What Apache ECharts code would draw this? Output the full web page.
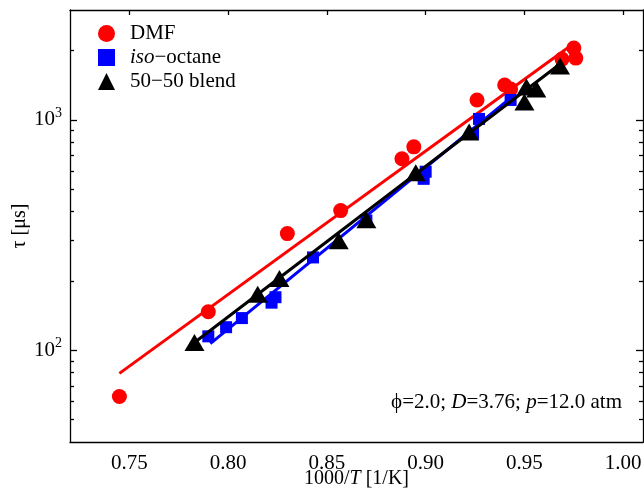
<!DOCTYPE html>
<html>
<head>
<meta charset="utf-8">
<script src="https://cdn.jsdelivr.net/npm/echarts@6/dist/echarts.min.js"></script>
<style>
  html, body { margin: 0; padding: 0; background: #fff; }
  #chart { width: 644px; height: 488px; }
</style>
</head>
<body>
<div id="chart"></div>
<script>
// ---- data ----
const dmfX = [0.745, 0.790, 0.830, 0.857, 0.888, 0.894, 0.926, 0.940, 0.943, 0.969, 0.975, 0.976];
const dmfY = [63, 147, 321, 404, 678, 764, 1221, 1418, 1362, 1837, 2052, 1855];

const isoX = [0.790, 0.799, 0.807, 0.822, 0.824, 0.843, 0.870, 0.899, 0.900, 0.924, 0.927, 0.943];
const isoY = [115, 126, 138, 161, 170, 253, 366, 555, 596, 870, 1010, 1221];

const blendX = [0.783, 0.815, 0.826, 0.856, 0.870, 0.895, 0.922, 0.950, 0.951, 0.956, 0.968];
const blendY = [108, 175, 205, 299, 369, 590, 887, 1196, 1390, 1362, 1713];

// fitted lines (end points)
const dmfFitX = [0.745, 0.976];
const dmfFitY = [79.4, 2178];
const isoFitX = [0.791, 0.943];
const isoFitY = [107, 1245];
const blendFitX = [0.781, 0.968];
const blendFitY = [105, 1748];

const xTicks = [0.75, 0.80, 0.85, 0.90, 0.95, 1.00];
const yMajorTicks = [100, 1000];
const yMinorTicks = [50, 60, 70, 80, 90, 200, 300, 400, 500, 600, 700, 800, 900, 2000];

const seriesNames = ['DMF', 'iso\u2212octane', '50\u221250 blend'];

const zip = (xs, ys) => xs.map((x, i) => [x, ys[i]]);

const FONT = 'Liberation Serif';
const chart = echarts.init(document.getElementById('chart'), null, { renderer: 'canvas' });

const xBase = { type: 'value', min: 0.72, max: 1.01, gridIndex: 0 };
const yBase = { type: 'log', logBase: 10, min: 40, max: 3000, gridIndex: 0 };
const lineStyle = { color: '#000', width: 1.3 };

const option = {
  animation: false,
  backgroundColor: '#fff',
  grid: { left: 70, top: 10, right: 1, bottom: 46, outerBoundsMode: 'none', containLabel: false },
  legend: {
    data: seriesNames,
    orient: 'vertical',
    left: 93,
    top: 18,
    itemWidth: 17,
    itemHeight: 17,
    itemGap: 3,
    textStyle: {
      fontFamily: FONT, fontSize: 21, color: '#000', lineHeight: 21, padding: [0, 0, 0, 10],
      rich: { i: { fontFamily: FONT, fontSize: 21, fontStyle: 'italic', color: '#000' } }
    },
    formatter: function (name) {
      if (name.indexOf('iso') === 0) return '{i|iso}' + name.slice(3);
      return name;
    }
  },
  xAxis: [
    Object.assign({}, xBase, {
      position: 'bottom',
      name: '1000/{i|T} [1/K]',
      nameLocation: 'middle',
      nameGap: 27,
      nameMoveOverlap: false,
      nameTextStyle: {
        fontFamily: FONT, fontSize: 20, color: '#000',
        rich: { i: { fontFamily: FONT, fontSize: 20, fontStyle: 'italic', color: '#000' } }
      },
      axisLine: { show: true, lineStyle: lineStyle },
      axisTick: { show: false },
      axisLabel: {
        customValues: xTicks,
        fontFamily: FONT, fontSize: 21, color: '#000', margin: 11,
        formatter: v => v.toFixed(2)
      },
      splitLine: { show: false }
    }),
    Object.assign({}, xBase, {
      position: 'top',
      axisLine: { show: true, onZero: false, lineStyle: lineStyle },
      axisTick: { show: true, inside: true, length: 5, customValues: xTicks, lineStyle: lineStyle },
      axisLabel: { show: false },
      splitLine: { show: false }
    })
  ],
  yAxis: [
    Object.assign({}, yBase, {
      position: 'left',
      name: '\u03c4 [\u03bcs]',
      nameLocation: 'middle',
      nameRotate: 90,
      nameGap: 40,
      nameMoveOverlap: false,
      nameTextStyle: { fontFamily: FONT, fontSize: 20, color: '#000' },
      axisLine: { show: true, onZero: false, lineStyle: lineStyle },
      axisTick: { show: true, inside: true, length: 7, customValues: yMajorTicks, lineStyle: lineStyle },
      axisLabel: {
        customValues: yMajorTicks,
        fontFamily: FONT, fontSize: 21, color: '#000', margin: 8,
        formatter: v => '10{sup|' + Math.round(Math.log10(v)) + '}',
        rich: { sup: { fontFamily: FONT, fontSize: 14, color: '#000', padding: [0, 0, 14, 0] } }
      },
      splitLine: { show: false }
    }),
    Object.assign({}, yBase, {
      position: 'right',
      axisLine: { show: true, onZero: false, lineStyle: lineStyle },
      axisTick: { show: true, inside: true, length: 7, customValues: yMajorTicks, lineStyle: lineStyle },
      axisLabel: { show: false },
      splitLine: { show: false }
    }),
    Object.assign({}, yBase, {
      position: 'left',
      axisLine: { show: false },
      axisTick: { show: true, inside: true, length: 4, customValues: yMinorTicks, lineStyle: lineStyle },
      axisLabel: { show: false },
      splitLine: { show: false }
    }),
    Object.assign({}, yBase, {
      position: 'right',
      axisLine: { show: false },
      axisTick: { show: true, inside: true, length: 4, customValues: yMinorTicks, lineStyle: lineStyle },
      axisLabel: { show: false },
      splitLine: { show: false }
    })
  ],
  graphic: [
    {
      type: 'text',
      right: 22,
      top: 392,
      style: {
        text: '{n|\u03d5=2.0; }{i|D}{n|=3.76; }{i|p}{n|=12.0 atm}',
        rich: {
          n: { fontFamily: FONT, fontSize: 21, fill: '#000' },
          i: { fontFamily: FONT, fontSize: 21, fontStyle: 'italic', fill: '#000' }
        }
      }
    }
  ],
  series: [
    {
      name: seriesNames[0], type: 'scatter', symbol: 'circle', symbolSize: 15,
      itemStyle: { color: '#ff0000', opacity: 1 }, data: zip(dmfX, dmfY), z: 2
    },
    {
      name: 'dmfFit', type: 'line', data: zip(dmfFitX, dmfFitY), showSymbol: false, symbol: 'none',
      lineStyle: { color: '#ff0000', width: 3 }, z: 3
    },
    {
      name: seriesNames[1], type: 'scatter', symbol: 'rect', symbolSize: 12,
      itemStyle: { color: '#0000ff', opacity: 1 }, data: zip(isoX, isoY), z: 4
    },
    {
      name: 'isoFit', type: 'line', data: zip(isoFitX, isoFitY), showSymbol: false, symbol: 'none',
      lineStyle: { color: '#0000ff', width: 3 }, z: 5
    },
    {
      name: seriesNames[2], type: 'scatter', symbol: 'triangle', symbolSize: [20, 17],
      itemStyle: { color: '#000000', opacity: 1 }, data: zip(blendX, blendY), z: 6
    },
    {
      name: 'blendFit', type: 'line', data: zip(blendFitX, blendFitY), showSymbol: false, symbol: 'none',
      lineStyle: { color: '#000000', width: 3 }, z: 7
    }
  ]
};

chart.setOption(option);
</script>
</body>
</html>
